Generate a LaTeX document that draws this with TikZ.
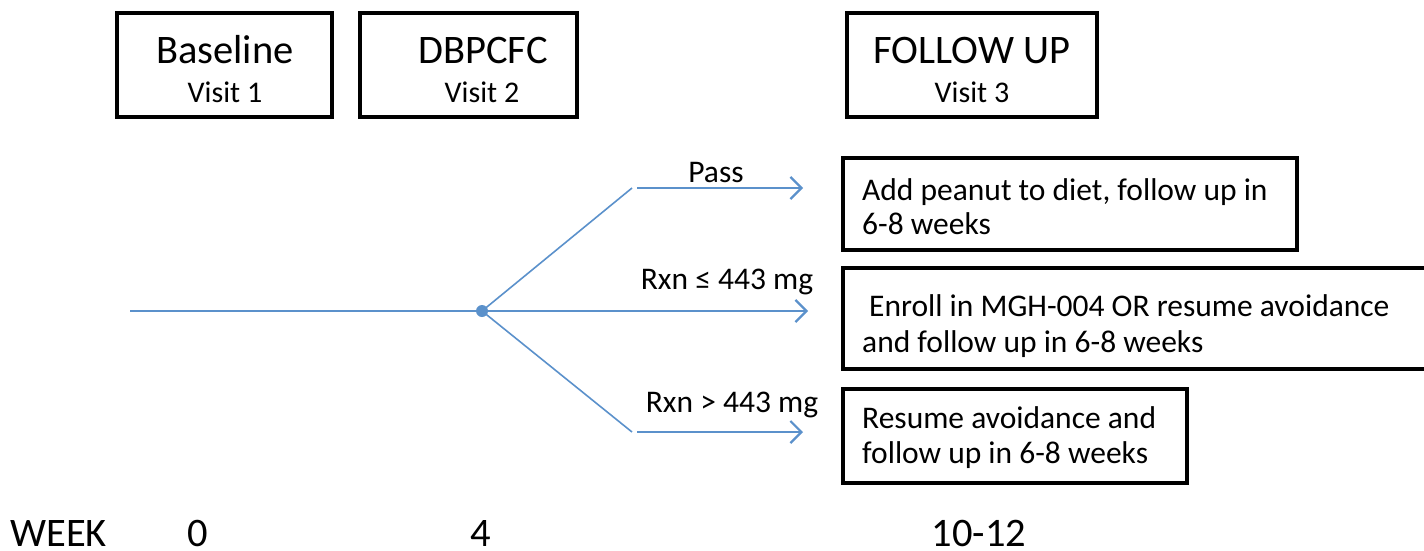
\documentclass[tikz,border=0pt]{standalone}
\usepackage{fontspec}
\setmainfont{Carlito}
\usetikzlibrary{arrows.meta}
\definecolor{flow}{RGB}{91,145,203}
\tikzset{
  stagebox/.style={draw=black, line width=3.6pt, minimum width=#1, minimum height=104pt, inner sep=0pt},
  big/.style={font=\fontsize{40.5}{48}\selectfont, inner sep=0pt, anchor=base},
  small/.style={font=\fontsize{30}{36}\selectfont, inner sep=0pt, anchor=base},
  txt/.style={font=\fontsize{31.5}{37}\selectfont, inner sep=0pt, anchor=base west},
  lbl/.style={font=\fontsize{31.5}{37}\selectfont, inner sep=0pt, anchor=base},
  branch/.style={draw=flow, line width=1.6pt},
  arr/.style={draw=flow, line width=1.9pt, -{Straight Barb[length=11pt, width=22pt, line width=2.2pt]}},
}
\begin{document}
\begin{tikzpicture}[x=1pt, y=-1pt]
\useasboundingbox (0,0) rectangle (1424,550);

% visit boxes
\node[stagebox=215pt] (b1) at (224.5,65) {};
\node[big] (b1t) at (225,63) {Baseline};
\node[small] (b1v) at (225,102) {Visit 1};

\node[stagebox=217pt] (b2) at (468.5,65) {};
\node[big] (b2t) at (483,63) {DBPCFC};
\node[small] (b2v) at (482,102) {Visit 2};

\node[stagebox=250pt] (b3) at (972,65) {};
\node[big] (b3t) at (972,63) {FOLLOW UP};
\node[small] (b3v) at (972,102) {Visit 3};

% outcome boxes
\draw[line width=3.6pt] (843,158) rectangle (1297,250);
\node[txt] (oa1) at (862,200) {Add peanut to diet, follow up in};
\node[txt] (oa2) at (862,234) {6-8 weeks};

\draw[line width=3.6pt] (843,268) rectangle (1440,369);
\node[txt] (ob1) at (869,316) {Enroll in MGH-004 OR resume avoidance};
\node[txt] (ob2) at (862,352) {and follow up in 6-8 weeks};

\draw[line width=3.6pt] (843,389) rectangle (1187,483);
\node[txt] (oc1) at (862,428) {Resume avoidance and};
\node[txt] (oc2) at (862,463) {follow up in 6-8 weeks};

% timeline and branches
\coordinate (start) at (130,311);
\node[circle, fill=flow, inner sep=0pt, minimum size=12pt] (fork) at (482,311) {};
\coordinate (upk) at (632,188);
\coordinate (lok) at (632,432);
\coordinate (ups) at (637,188);
\coordinate (los) at (637,432);
\coordinate (upe) at (803,188);
\coordinate (mide) at (808,311);
\coordinate (loe) at (803,432);

\draw[branch] (start) -- (fork.center);
\draw[branch] (fork.center) -- (upk);
\draw[branch] (fork.center) -- (lok);
\draw[arr] (ups) -- (upe);
\draw[arr] (fork.center) -- (mide);
\draw[arr] (los) -- (loe);

\node[lbl] (lp) at (716,182) {Pass};
\node[lbl] (lr1) at (727,289) {Rxn ≤ 443 mg};
\node[lbl] (lr2) at (732,412) {Rxn > 443 mg};

% week axis
\node[big, anchor=base west] (wk) at (10,546) {WEEK};
\node[big] (w0) at (198,546) {0};
\node[big] (w4) at (481,546) {4};
\node[big] (w10) at (979,546) {10-12};
\end{tikzpicture}
\end{document}
